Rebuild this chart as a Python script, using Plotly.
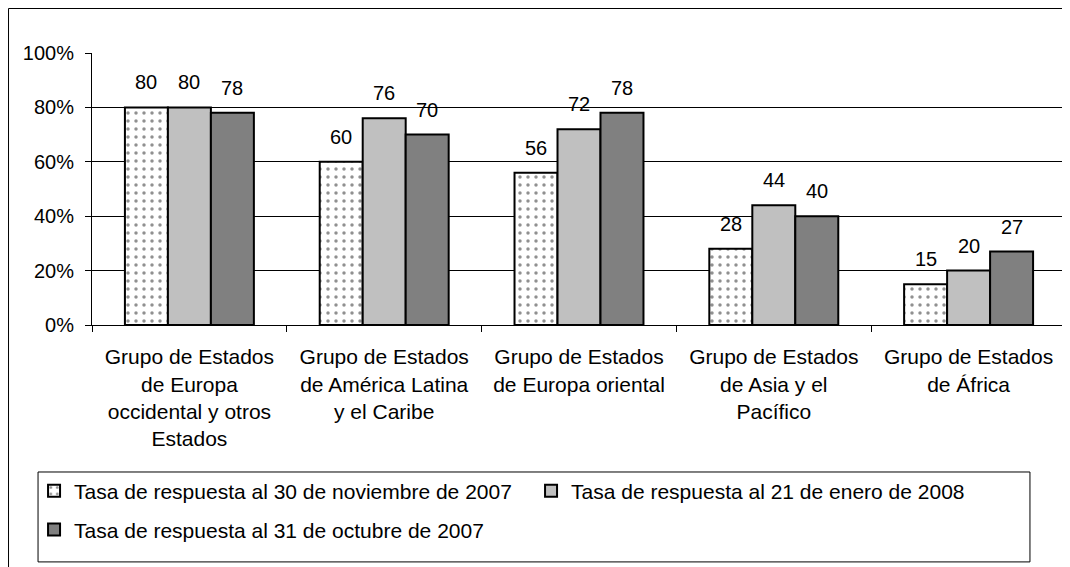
import plotly.graph_objects as go

categories = [
    "Grupo de Estados<br>de Europa<br>occidental y otros<br>Estados",
    "Grupo de Estados<br>de América Latina<br>y el Caribe",
    "Grupo de Estados<br>de Europa oriental",
    "Grupo de Estados<br>de Asia y el<br>Pacífico",
    "Grupo de Estados<br>de África",
]
tasa_nov_2007 = [80, 60, 56, 28, 15]
tasa_ene_2008 = [80, 76, 72, 44, 20]
tasa_oct_2007 = [78, 70, 78, 40, 27]

series_names = [
    "Tasa de respuesta al 30 de noviembre de 2007",
    "Tasa de respuesta al 21 de enero de 2008",
    "Tasa de respuesta al 31 de octubre de 2007",
]

FONT = "Arial, Liberation Sans, sans-serif"

# figure sits 8px inside the page (body margin)
W, H = 1062, 559
M_L, M_R, M_T, M_B = 84, 4, 45, 242
BARGAP = 0.338
plot_w = W - M_L - M_R
bar_w = plot_w / len(categories) * (1 - BARGAP) / 3

fig = go.Figure()

fig.add_trace(
    go.Bar(
        x=categories,
        y=tasa_nov_2007,
        name=series_names[0],
        legend="legend",
        marker=dict(
            color="white",
            line=dict(color="black", width=2),
            pattern=dict(shape=".", fgcolor="#222222", bgcolor="white", size=8, solidity=0.15),
        ),
    )
)
fig.add_trace(
    go.Bar(
        x=categories,
        y=tasa_ene_2008,
        name=series_names[1],
        legend="legend",
        marker=dict(color="#c0c0c0", line=dict(color="black", width=2)),
    )
)
fig.add_trace(
    go.Bar(
        x=categories,
        y=tasa_oct_2007,
        name=series_names[2],
        legend="legend2",
        marker=dict(color="#808080", line=dict(color="black", width=2)),
    )
)

# data labels above each bar
annotations = []
for i, values in enumerate([tasa_nov_2007, tasa_ene_2008, tasa_oct_2007]):
    for cat, v in zip(categories, values):
        annotations.append(
            dict(
                x=cat, y=v, xref="x", yref="y",
                text=str(v), showarrow=False,
                xshift=(i - 1) * bar_w, yshift=25,
                yanchor="middle",
                font=dict(family=FONT, size=20, color="black"),
            )
        )

legend_style = dict(
    orientation="h",
    xanchor="left",
    yanchor="top",
    entrywidth=452,
    font=dict(family=FONT, size=21, color="black"),
    bgcolor="rgba(0,0,0,0)",
    itemwidth=30,
)

fig.update_layout(
    width=W,
    height=H,
    margin=dict(l=M_L, r=M_R, t=M_T, b=M_B),
    paper_bgcolor="white",
    plot_bgcolor="white",
    font=dict(family=FONT, size=20, color="black"),
    barmode="group",
    bargap=BARGAP,
    bargroupgap=0,
    showlegend=True,
    legend=dict(x=-0.0595, y=-0.535, **legend_style),
    legend2=dict(x=-0.0595, y=-0.678, **legend_style),
    annotations=annotations,
    shapes=[
        # outer chart border
        dict(type="rect", xref="paper", yref="paper",
             x0=-0.0857, x1=1.02, y0=-0.95, y1=1.1636,
             line=dict(color="black", width=1), layer="below"),
        # legend box
        dict(type="rect", xref="paper", yref="paper",
             x0=-0.0554, x1=0.963, y0=-0.871, y1=-0.5404,
             line=dict(color="black", width=1), layer="below"),
    ],
)

fig.update_yaxes(
    range=[0, 100],
    dtick=20,
    ticksuffix="%",
    showgrid=True,
    gridcolor="black",
    gridwidth=1,
    showline=True,
    linecolor="black",
    linewidth=1,
    ticks="outside",
    ticklen=6,
    tickcolor="black",
    ticklabelstandoff=7,
    zeroline=False,
    tickfont=dict(family=FONT, size=20, color="black"),
)
fig.update_xaxes(
    showline=True,
    linecolor="black",
    linewidth=1,
    ticks="outside",
    tickson="boundaries",
    ticklen=6,
    tickcolor="black",
    ticklabelstandoff=13,
    tickfont=dict(family=FONT, size=21, color="black"),
    tickangle=0,
)

fig.write_html("out.html")
